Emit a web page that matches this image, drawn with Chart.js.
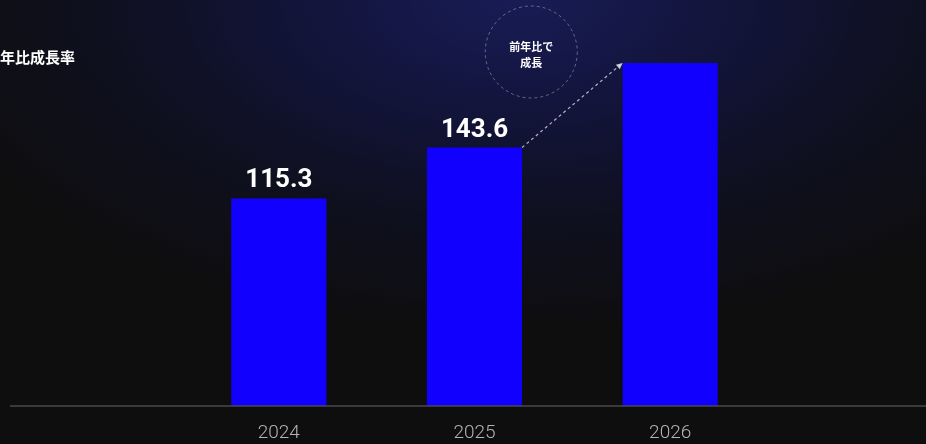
<!DOCTYPE html>
<html lang="ja">
<head>
<meta charset="utf-8">
<script src="https://cdn.jsdelivr.net/npm/chart.js@4"></script>
<style>
  html, body { margin: 0; padding: 0; }
  body {
    width: 926px; height: 444px; overflow: hidden;
    background: radial-gradient(ellipse 620px 330px at 56% 0%, #181c55 0%, #12143a 35%, #0f1020 65%, #0e0e0f 100%);
  }
  #chart { display: block; }
</style>
</head>
<body>
<canvas id="chart" width="926" height="444"></canvas>
<script>
// ==== Data ====
const years = ['2024', '2025', '2026'];
const revenue = [115.3, 143.6, 190.6];
const valueLabels = ['115.3', '143.6', ''];   // 2026 is not labelled in the source
const sideTitle = '前年比成長率';
const bubbleLines = ['前年比で', '成長'];

const BAR_BLUE = '#1200ff';

// value labels above bars
const valueLabelPlugin = {
  id: 'valueLabels',
  afterDatasetsDraw(chart) {
    const { ctx } = chart;
    const meta = chart.getDatasetMeta(0);
    ctx.save();
    ctx.fillStyle = '#ffffff';
    ctx.font = '700 26px Roboto, "Noto Sans", sans-serif';
    ctx.textAlign = 'center';
    ctx.textBaseline = 'alphabetic';
    meta.data.forEach((bar, i) => {
      if (!valueLabels[i]) return;
      ctx.fillText(valueLabels[i], bar.x, bar.y - 11);
    });
    ctx.restore();
  }
};

// long baseline, side title, growth bubble and dashed arrow
const decorPlugin = {
  id: 'decor',
  afterDatasetsDraw(chart) {
    const { ctx } = chart;
    const y = chart.scales.y;
    const meta = chart.getDatasetMeta(0);
    const b1 = meta.data[1], b2 = meta.data[2];
    const zeroY = y.getPixelForValue(0);

    ctx.save();
    // baseline across the whole width
    ctx.strokeStyle = '#4a4a4c';
    ctx.lineWidth = 1.5;
    ctx.beginPath();
    ctx.moveTo(10, zeroY);
    ctx.lineTo(chart.width, zeroY);
    ctx.stroke();

    // side title (left part is cut off in the source)
    ctx.fillStyle = '#ffffff';
    ctx.font = '700 15px "Noto Sans CJK JP", sans-serif';
    ctx.textAlign = 'left';
    ctx.textBaseline = 'middle';
    ctx.fillText(sideTitle, -15, 57);

    // dashed arrow from 2025 bar top-right to 2026 bar top-left
    const x0 = b1.x + b1.width / 2, y0 = b1.y;
    const x1 = b2.x - b2.width / 2, y1 = b2.y;
    ctx.strokeStyle = 'rgba(220,220,230,0.8)';
    ctx.lineWidth = 1.2;
    ctx.setLineDash([3, 3]);
    ctx.beginPath();
    ctx.moveTo(x0, y0);
    ctx.lineTo(x1, y1);
    ctx.stroke();
    ctx.setLineDash([]);
    const ang = Math.atan2(y1 - y0, x1 - x0);
    ctx.fillStyle = 'rgba(220,220,230,0.9)';
    ctx.beginPath();
    ctx.moveTo(x1, y1);
    ctx.lineTo(x1 - 7 * Math.cos(ang - 0.45), y1 - 7 * Math.sin(ang - 0.45));
    ctx.lineTo(x1 - 7 * Math.cos(ang + 0.45), y1 - 7 * Math.sin(ang + 0.45));
    ctx.closePath();
    ctx.fill();

    // dashed circle bubble
    const cx = b1.x + (b2.x - b1.x) * 0.29;
    const cy = 52, r = 46;
    ctx.strokeStyle = 'rgba(200,200,215,0.45)';
    ctx.lineWidth = 1;
    ctx.setLineDash([3, 3]);
    ctx.beginPath();
    ctx.arc(cx, cy, r, 0, Math.PI * 2);
    ctx.stroke();
    ctx.setLineDash([]);

    ctx.fillStyle = '#ffffff';
    ctx.font = '700 11px "Noto Sans CJK JP", sans-serif';
    ctx.textAlign = 'center';
    ctx.fillText(bubbleLines[0], cx, cy - 5);
    ctx.fillText(bubbleLines[1], cx, cy + 11);
    ctx.restore();
  }
};

new Chart(document.getElementById('chart'), {
  type: 'bar',
  data: {
    labels: years,
    datasets: [{
      data: revenue,
      backgroundColor: BAR_BLUE,
      borderWidth: 0,
      barPercentage: 0.486,
      categoryPercentage: 1
    }]
  },
  options: {
    responsive: false,
    animation: false,
    layout: { padding: { left: 181, right: 158, top: 46, bottom: 0 } },
    plugins: { legend: { display: false }, tooltip: { enabled: false } },
    scales: {
      x: {
        grid: { display: false, drawTicks: false },
        border: { display: false },
        afterFit(scale) { scale.height = 38; },
        ticks: {
          color: '#b4b4b8',
          padding: 16,
          font: { family: 'Roboto', size: 19, weight: 300 }
        }
      },
      y: {
        display: false,
        min: 0,
        max: 200
      }
    }
  },
  plugins: [valueLabelPlugin, decorPlugin]
});
</script>
</body>
</html>
